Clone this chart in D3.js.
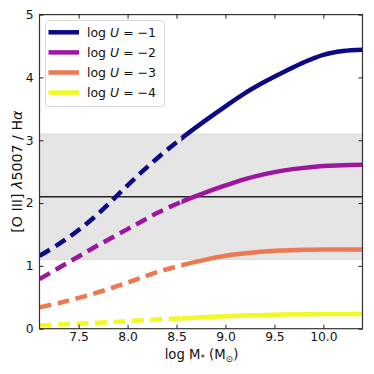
<!DOCTYPE html>
<html><head><meta charset="utf-8">
<script src="https://cdn.jsdelivr.net/npm/d3@7"></script>
<style>body{margin:0;background:#fff}svg{display:block}text{font-family:"DejaVu Sans",sans-serif}</style>
</head><body>
<svg id="c" width="374" height="374"></svg>
<script>
const xs = [7.1, 7.3, 7.5, 7.7, 7.9, 8.1, 8.3, 8.55, 8.8, 9.0, 9.2, 9.4, 9.6, 9.8, 10.0, 10.2, 10.4];
const logU1 = [1.16, 1.35, 1.57, 1.83, 2.13, 2.43, 2.71, 3.03, 3.32, 3.54, 3.75, 3.93, 4.09, 4.24, 4.36, 4.42, 4.44];
const logU2 = [0.79, 0.97, 1.15, 1.33, 1.50, 1.67, 1.84, 2.02, 2.17, 2.28, 2.38, 2.46, 2.52, 2.56, 2.59, 2.60, 2.61];
const logU3 = [0.34, 0.41, 0.49, 0.58, 0.68, 0.79, 0.90, 1.01, 1.10, 1.16, 1.20, 1.23, 1.245, 1.255, 1.26, 1.26, 1.26];
const logU4 = [0.05, 0.065, 0.08, 0.095, 0.11, 0.13, 0.145, 0.165, 0.185, 0.20, 0.21, 0.22, 0.225, 0.23, 0.235, 0.235, 0.235];
const seriesNames = ["\u22121", "\u22122", "\u22123", "\u22124"];
const seriesColors = ["#0d0887", "#9c179e", "#ed7953", "#f0f921"];
const seriesValues = [logU1, logU2, logU3, logU4];
const dashLimit = 8.55;
const bandLow = 1.1, bandHigh = 3.1, refLine = 2.1;
const xTicks = [7.5, 8.0, 8.5, 9.0, 9.5, 10.0];
const yTicks = [0, 1, 2, 3, 4, 5];

const svg = d3.select("#c");
const L = 39.5, R = 362.5, T = 14.6, B = 328.7;
const x = d3.scaleLinear().domain([7.1, 10.4]).range([L, R]);
const y = d3.scaleLinear().domain([0, 5]).range([B, T]);

const defs = svg.append("defs");
defs.append("clipPath").attr("id","clip")
  .append("rect").attr("x",L).attr("y",T).attr("width",R-L).attr("height",B-T);
defs.append("clipPath").attr("id","clipDash")
  .append("rect").attr("x",L).attr("y",T).attr("width",x(dashLimit)-L).attr("height",B-T);
defs.append("clipPath").attr("id","clipSolid")
  .append("rect").attr("x",x(dashLimit)).attr("y",T).attr("width",R-x(dashLimit)).attr("height",B-T);

const g = svg.append("g").attr("clip-path","url(#clip)");
g.append("rect").attr("x",L).attr("width",R-L).attr("y",y(bandHigh)).attr("height",y(bandLow)-y(bandHigh))
  .attr("fill","#e5e5e5").attr("stroke","#dadada").attr("stroke-width",0.8);
g.append("line").attr("x1",L).attr("x2",R).attr("y1",y(refLine)).attr("y2",y(refLine))
  .attr("stroke","#222").attr("stroke-width",1.5);

const line = d3.line().x(d=>x(d[0])).y(d=>y(d[1])).curve(d3.curveCatmullRom.alpha(0.5));
seriesValues.forEach((vals,i)=>{
  const pts = xs.map((v,j)=>[v, vals[j]]);
  g.append("path").attr("clip-path","url(#clipDash)").attr("d", line(pts)).attr("fill","none")
    .attr("stroke",seriesColors[i]).attr("stroke-width",4.5).attr("stroke-dasharray","12,6.5");
  g.append("path").attr("clip-path","url(#clipSolid)").attr("d", line(pts)).attr("fill","none")
    .attr("stroke",seriesColors[i]).attr("stroke-width",4.5);
});

// frame
svg.append("rect").attr("x",L).attr("y",T).attr("width",R-L).attr("height",B-T)
  .attr("fill","none").attr("stroke","#333").attr("stroke-width",1.2);

// axes with inward ticks
const axB = svg.append("g").attr("transform",`translate(0,${B})`)
  .call(d3.axisBottom(x).tickValues(xTicks).tickFormat(d3.format(".1f")).tickSizeInner(-4).tickSizeOuter(0).tickPadding(4));
const axT = svg.append("g").attr("transform",`translate(0,${T})`)
  .call(d3.axisTop(x).tickValues(xTicks).tickFormat("").tickSizeInner(-4).tickSizeOuter(0));
const axL = svg.append("g").attr("transform",`translate(${L},0)`)
  .call(d3.axisLeft(y).tickValues(yTicks).tickFormat(d3.format("d")).tickSizeInner(-4).tickSizeOuter(0).tickPadding(6));
const axR = svg.append("g").attr("transform",`translate(${R},0)`)
  .call(d3.axisRight(y).tickValues(yTicks).tickFormat("").tickSizeInner(-4).tickSizeOuter(0));
[axB,axT,axL,axR].forEach(a=>{
  a.select(".domain").remove();
  a.selectAll(".tick line").attr("stroke","#222");
  a.selectAll("text").attr("font-size",12.3).attr("fill","#111").style("font-family","DejaVu Sans");
});

// axis labels
const xl = svg.append("text").attr("x",(L+R)/2+0.5).attr("y",359).attr("text-anchor","middle")
  .attr("font-size",13.2).attr("fill","#111");
xl.append("tspan").text("log M");
xl.append("tspan").attr("font-size",9).attr("dy",2).text("*");
xl.append("tspan").attr("dy",-2).text(" (M");
xl.append("tspan").attr("font-size",9).attr("dy",3).text("\u2299");
xl.append("tspan").attr("dy",-3).text(")");

const yl = svg.append("text").attr("transform",`translate(22,${(T+B)/2}) rotate(-90)`).attr("text-anchor","middle")
  .attr("font-size",14.2).attr("fill","#111");
yl.append("tspan").text("[O III] ");
yl.append("tspan").attr("font-style","italic").text("\u03bb");
yl.append("tspan").text("5007 / H");
yl.append("tspan").attr("font-style","italic").text("\u03b1");

// legend
const lg = svg.append("g");
lg.append("rect").attr("x",45.5).attr("y",20.5).attr("width",119).attr("height",86).attr("rx",3)
  .attr("fill","#fff").attr("fill-opacity",0.85).attr("stroke","#d8d8d8").attr("stroke-width",1);
seriesNames.forEach((n,i)=>{
  const yy = 32.3 + i*20.1;
  lg.append("line").attr("x1",48.5).attr("x2",79).attr("y1",yy).attr("y2",yy)
    .attr("stroke",seriesColors[i]).attr("stroke-width",4.5);
  const t = lg.append("text").attr("x",87).attr("y",yy+4.5).attr("font-size",12.5).attr("fill","#111");
  t.append("tspan").text("log ");
  t.append("tspan").attr("font-style","italic").text("U");
  t.append("tspan").text(" = " + n);
});
</script>
</body></html>
